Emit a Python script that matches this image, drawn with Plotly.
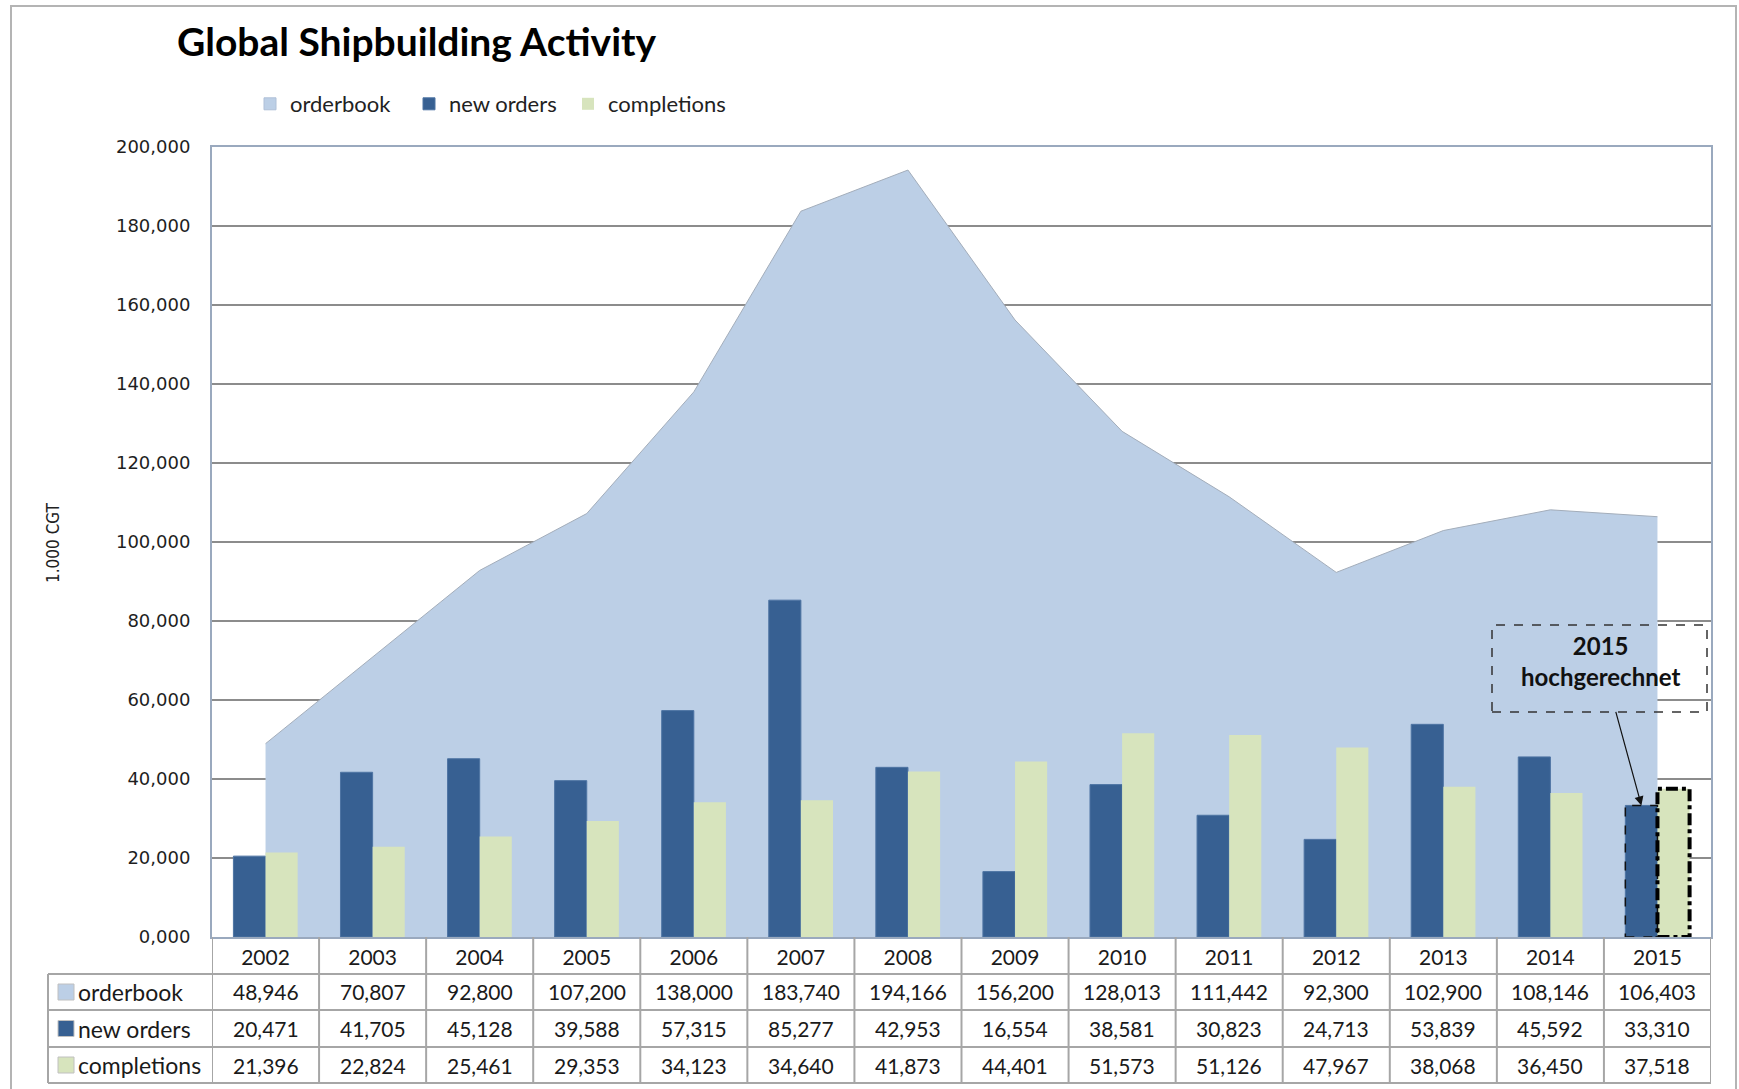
import plotly.graph_objects as go

# ---------------- data ----------------
years = ["2002", "2003", "2004", "2005", "2006", "2007", "2008",
         "2009", "2010", "2011", "2012", "2013", "2014", "2015"]
orderbook = [48946, 70807, 92800, 107200, 138000, 183740, 194166,
             156200, 128013, 111442, 92300, 102900, 108146, 106403]
new_orders = [20471, 41705, 45128, 39588, 57315, 85277, 42953,
              16554, 38581, 30823, 24713, 53839, 45592, 33310]
completions = [21396, 22824, 25461, 29353, 34123, 34640, 41873,
               44401, 51573, 51126, 47967, 38068, 36450, 37518]
series_names = ["orderbook", "new orders", "completions"]
y_tick_vals = [0, 20000, 40000, 60000, 80000, 100000, 120000,
               140000, 160000, 180000, 200000]
y_tick_text = ["0,000", "20,000", "40,000", "60,000", "80,000", "100,000",
               "120,000", "140,000", "160,000", "180,000", "200,000"]
title_text = "Global Shipbuilding Activity"
y_title = "1.000 CGT"
callout_text = "2015<br>hochgerechnet"
projected_year = "2015"

# ---------------- styling ----------------
W, H = 1739, 1089
ML, MR, MT, MB = 212, 28, 147, 152
PW, PH = W - ML - MR, H - MT - MB
C_ORDER = "#BCCFE6"
C_NEW = "#376092"
C_COMP = "#D7E4BD"
GRID = "#8C8C8C"
TABLE_LINE = "#A6A6A6"
FONT = "Lato"
BAR_GAP = 0.4
BAR_W = (1 - BAR_GAP) / 2
Y_RANGE = [0, 200000]


def px_y(py):
    """pixel row (from top of page) -> paper y"""
    return (H - MB - py) / PH


def px_x(px):
    return (px - ML) / PW


fig = go.Figure()

# area on the base axes (drawn first / underneath)
fig.add_trace(go.Scatter(
    x=years, y=orderbook, name=series_names[0], mode="lines",
    fill="tozeroy", fillcolor=C_ORDER,
    line=dict(color="#A3ADBA", width=1), showlegend=False,
    xaxis="x", yaxis="y"))
# legend proxy for the area (square key like the original)
fig.add_trace(go.Bar(
    x=years, y=[None] * len(years), name=series_names[0],
    marker=dict(color=C_ORDER, line=dict(color="#AFC0D8", width=1)),
    xaxis="x", yaxis="y", hoverinfo="skip"))
# bars on overlaid axes so they are drawn on top of the area
fig.add_trace(go.Bar(
    x=years, y=new_orders, name=series_names[1],
    marker=dict(color=C_NEW, line=dict(color="#4E74A3", width=1)),
    xaxis="x2", yaxis="y2"))
fig.add_trace(go.Bar(
    x=years, y=completions, name=series_names[2],
    marker=dict(color=C_COMP, line=dict(color=C_COMP, width=0)),
    xaxis="x2", yaxis="y2"))

shapes = []
annotations = []

# outer chart border
shapes.append(dict(type="rect", xref="paper", yref="paper",
                   x0=px_x(11), x1=px_x(1736), y0=px_y(1100), y1=px_y(6),
                   line=dict(color="#B4B4B4", width=2), layer="below"))

# ---- data table under the plot ----
row_tops = [974, 1010, 1047, 1083]
table_top = H - MB
n = len(years)
for i in range(n + 1):
    shapes.append(dict(type="line", xref="x", yref="paper",
                       x0=i - 0.5, x1=i - 0.5, y0=px_y(table_top), y1=px_y(row_tops[-1]),
                       line=dict(color=TABLE_LINE, width=2)))
shapes.append(dict(type="line", xref="paper", yref="paper",
                   x0=px_x(48), x1=px_x(48), y0=px_y(row_tops[0]), y1=px_y(row_tops[-1]),
                   line=dict(color=TABLE_LINE, width=2)))
for r in row_tops:
    shapes.append(dict(type="line", xref="paper", yref="paper",
                       x0=px_x(48), x1=1, y0=px_y(r), y1=px_y(r),
                       line=dict(color=TABLE_LINE, width=2)))

rows = [orderbook, new_orders, completions]
colors = [C_ORDER, C_NEW, C_COMP]
for k, (vals, name, col) in enumerate(zip(rows, series_names, colors)):
    top, bot = row_tops[k], row_tops[k + 1]
    mid = (top + bot) / 2
    shapes.append(dict(type="rect", xref="paper", yref="paper",
                       x0=px_x(58), x1=px_x(74), y0=px_y(mid + 8), y1=px_y(mid - 8),
                       fillcolor=col, line=dict(color="#C0C0C0", width=1)))
    annotations.append(dict(text=name, xref="paper", yref="paper",
                            x=px_x(76), y=px_y(mid), xanchor="left", yanchor="middle",
                            showarrow=False, font=dict(family=FONT, size=23, color="#1A1A1A")))
    for i, v in enumerate(vals):
        annotations.append(dict(text=f"{v:,}", xref="x", yref="paper",
                                x=i, y=px_y(mid), xanchor="center", yanchor="middle",
                                showarrow=False, font=dict(family=FONT, size=21, color="#1A1A1A")))

# ---- projected 2015 outlines ----
pi = years.index(projected_year)
shapes.append(dict(type="rect", xref="x", yref="y",
                   x0=pi - BAR_W, x1=pi, y0=0, y1=new_orders[pi],
                   line=dict(color="#111111", width=1.5, dash="dash"), layer="above"))
shapes.append(dict(type="rect", xref="x", yref="y",
                   x0=pi, x1=pi + BAR_W, y0=0, y1=completions[pi],
                   line=dict(color="#000000", width=4, dash="dashdot"), layer="above"))

# callout box
shapes.append(dict(type="rect", xref="paper", yref="paper",
                   x0=px_x(1492), x1=px_x(1707), y0=px_y(712), y1=px_y(625),
                   line=dict(color="#333333", width=1.5, dash="dash"), layer="above"))
annotations.append(dict(text="<b>" + callout_text + "</b>", xref="paper", yref="paper",
                        x=px_x(1600), y=px_y(661), xanchor="center", yanchor="middle",
                        showarrow=False, align="center",
                        font=dict(family=FONT, size=24, color="#111111")))
annotations.append(dict(text="", xref="x", yref="y", x=pi - BAR_W / 2, y=new_orders[pi],
                        showarrow=True, arrowhead=2, arrowsize=1.5, arrowwidth=1.2,
                        arrowcolor="#111111", ax=-26, ay=-95))

# y-axis title
annotations.append(dict(text=y_title, xref="paper", yref="paper",
                        x=px_x(53), y=px_y(543), textangle=-90,
                        xanchor="center", yanchor="middle", showarrow=False,
                        font=dict(family="DejaVu Sans Condensed, DejaVu Sans", size=17, color="#222222")))

fig.update_layout(
    width=W, height=H,
    margin=dict(l=ML, r=MR, t=MT, b=MB, pad=0),
    paper_bgcolor="white", plot_bgcolor="white",
    barmode="group", bargap=BAR_GAP, bargroupgap=0,
    title=dict(text="<b>" + title_text + "</b>", xref="container", yref="container",
               x=177 / W, y=1 - 42 / H, xanchor="left", yanchor="middle",
               font=dict(family=FONT, size=39, color="#000000")),
    legend=dict(orientation="h", x=px_x(250), y=1 + (MT - 104) / PH,
                xanchor="left", yanchor="middle", itemwidth=30,
                entrywidth=114, font=dict(family=FONT, size=22, color="#222222"),
                bgcolor="rgba(0,0,0,0)", traceorder="normal"),
    xaxis=dict(type="category", range=[-0.5, n - 0.5], showgrid=False,
               showline=True, linecolor="#9AA9BE", linewidth=2, mirror=True,
               ticks="outside", ticklen=1, tickcolor="rgba(0,0,0,0)",
               tickfont=dict(family=FONT, size=21, color="#1A1A1A"), fixedrange=True),
    yaxis=dict(range=Y_RANGE, tickvals=y_tick_vals, ticktext=y_tick_text,
               showgrid=True, gridcolor=GRID, gridwidth=1.5,
               showline=True, linecolor="#9AA9BE", linewidth=2, mirror=True,
               zeroline=False, ticks="outside", ticklen=16, tickcolor="rgba(0,0,0,0)",
               tickfont=dict(family="DejaVu Sans", size=18, color="#1E1E1E"), fixedrange=True),
    xaxis2=dict(type="category", range=[-0.5, n - 0.5], overlaying="x",
                visible=False, fixedrange=True),
    yaxis2=dict(range=Y_RANGE, overlaying="y", visible=False, showgrid=False,
                fixedrange=True),
    shapes=shapes, annotations=annotations,
    showlegend=True,
)

fig.write_html("out.html",
               config={"displayModeBar": False},
               post_script="document.body.style.margin='0';"
                           "document.documentElement.style.overflow='hidden';")
